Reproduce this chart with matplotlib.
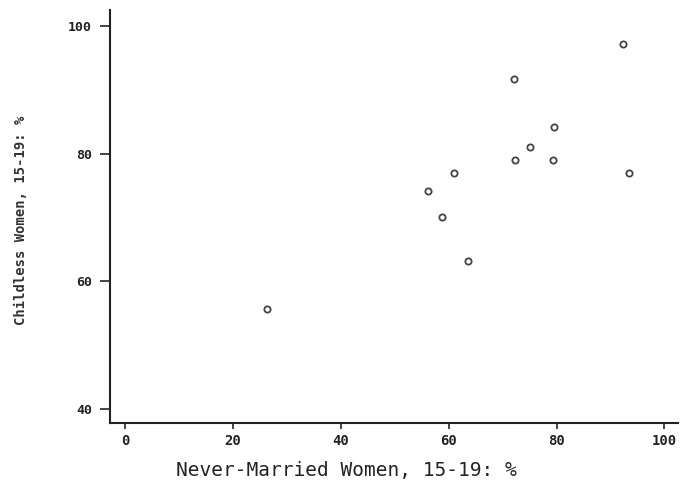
import matplotlib
matplotlib.use("Agg")
from matplotlib import pyplot as plt

# never-married vs childless women aged 15-19 (%)
never_married = [26.3, 56.1, 58.7, 60.9, 63.6, 72.1, 72.2, 75.1, 79.4, 79.5, 92.4, 93.4]
childless = [55.6, 74.2, 70.1, 76.9, 63.2, 91.6, 79.0, 81.1, 79.0, 84.1, 97.2, 77.0]

x_ticks = [0, 20, 40, 60, 80, 100]
y_ticks = [40, 60, 80, 100]

plt.rcParams['font.family'] = ['DejaVu Sans Mono']

fig = plt.figure(figsize=(6.81, 4.93), dpi=100)
ax = fig.add_axes([0.1615, 0.142, 0.834, 0.838])

ax.plot(never_married, childless, linestyle='none', marker='o', markersize=4.5,
        markerfacecolor='white', markeredgecolor='#444444', markeredgewidth=1.3)

ax.set_xlim(-2.8, 102.5)
ax.set_ylim(37.8, 102.5)
ax.set_xticks(x_ticks)
ax.set_yticks(y_ticks)

for side in ['top', 'right']:
    ax.spines[side].set_visible(False)
for side in ['left', 'bottom']:
    ax.spines[side].set_linewidth(1.5)
    ax.spines[side].set_color('#222222')

ax.tick_params(axis='y', direction='out', length=7, width=1.2, pad=6,
               labelsize=9.5, colors='#222222')
ax.tick_params(axis='x', direction='out', length=4, width=1.2, pad=4,
               labelsize=10, colors='#222222')
for lab in ax.get_xticklabels() + ax.get_yticklabels():
    lab.set_fontweight('bold')

ax.set_xlabel('Never-Married Women, 15-19: %', fontsize=14, color='#222222')
ax.xaxis.set_label_coords(0.417, -0.092)
ax.set_ylabel('Childless Women, 15-19: %', fontsize=10, fontweight='bold', color='#333333')
ax.yaxis.set_label_coords(-0.145, 0.49)

fig.savefig('out.png', dpi=100)
